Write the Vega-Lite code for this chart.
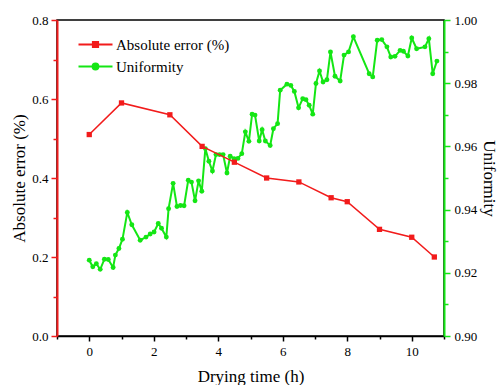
{
  "$schema": "https://vega.github.io/schema/vega-lite/v6.json",
  "width": 387,
  "height": 316,
  "autosize": {"type": "none"},
  "padding": {"left": 57, "top": 20, "right": 55, "bottom": 49},
  "background": "white",
  "config": {
    "view": {"stroke": "black", "strokeWidth": 1.5},
    "font": "Liberation Serif",
    "axis": {
      "labelFont": "Liberation Serif",
      "titleFont": "Liberation Serif",
      "labelFontSize": 13,
      "titleFontSize": 17,
      "titleFontWeight": "normal",
      "labelColor": "black",
      "titleColor": "black",
      "grid": false
    }
  },
  "datasets": {
    "err": [
      {"series": "Absolute error (%)", "t": 0, "v": 0.51},
      {"series": "Absolute error (%)", "t": 1, "v": 0.59},
      {"series": "Absolute error (%)", "t": 2.5, "v": 0.56},
      {"series": "Absolute error (%)", "t": 3.5, "v": 0.48},
      {"series": "Absolute error (%)", "t": 4.5, "v": 0.44},
      {"series": "Absolute error (%)", "t": 5.5, "v": 0.40},
      {"series": "Absolute error (%)", "t": 6.5, "v": 0.39},
      {"series": "Absolute error (%)", "t": 7.5, "v": 0.35},
      {"series": "Absolute error (%)", "t": 8, "v": 0.34},
      {"series": "Absolute error (%)", "t": 9, "v": 0.27},
      {"series": "Absolute error (%)", "t": 10, "v": 0.25},
      {"series": "Absolute error (%)", "t": 10.7, "v": 0.20}
    ],
    "uni": [
      {"series": "Uniformity", "t": 0.00, "v": 0.9240},
      {"series": "Uniformity", "t": 0.11, "v": 0.9219},
      {"series": "Uniformity", "t": 0.22, "v": 0.9229},
      {"series": "Uniformity", "t": 0.34, "v": 0.9211},
      {"series": "Uniformity", "t": 0.47, "v": 0.9243},
      {"series": "Uniformity", "t": 0.59, "v": 0.9242},
      {"series": "Uniformity", "t": 0.74, "v": 0.9217},
      {"series": "Uniformity", "t": 0.81, "v": 0.9256},
      {"series": "Uniformity", "t": 0.92, "v": 0.9277},
      {"series": "Uniformity", "t": 1.03, "v": 0.9306},
      {"series": "Uniformity", "t": 1.18, "v": 0.9391},
      {"series": "Uniformity", "t": 1.32, "v": 0.9352},
      {"series": "Uniformity", "t": 1.58, "v": 0.9303},
      {"series": "Uniformity", "t": 1.76, "v": 0.9313},
      {"series": "Uniformity", "t": 1.89, "v": 0.9323},
      {"series": "Uniformity", "t": 2.01, "v": 0.9329},
      {"series": "Uniformity", "t": 2.14, "v": 0.9356},
      {"series": "Uniformity", "t": 2.24, "v": 0.9341},
      {"series": "Uniformity", "t": 2.39, "v": 0.9313},
      {"series": "Uniformity", "t": 2.46, "v": 0.9403},
      {"series": "Uniformity", "t": 2.60, "v": 0.9483},
      {"series": "Uniformity", "t": 2.72, "v": 0.9410},
      {"series": "Uniformity", "t": 2.83, "v": 0.9413},
      {"series": "Uniformity", "t": 2.94, "v": 0.9412},
      {"series": "Uniformity", "t": 3.07, "v": 0.9493},
      {"series": "Uniformity", "t": 3.17, "v": 0.9487},
      {"series": "Uniformity", "t": 3.28, "v": 0.9428},
      {"series": "Uniformity", "t": 3.39, "v": 0.9491},
      {"series": "Uniformity", "t": 3.49, "v": 0.9458},
      {"series": "Uniformity", "t": 3.60, "v": 0.9593},
      {"series": "Uniformity", "t": 3.71, "v": 0.9553},
      {"series": "Uniformity", "t": 3.82, "v": 0.9522},
      {"series": "Uniformity", "t": 3.93, "v": 0.9574},
      {"series": "Uniformity", "t": 4.04, "v": 0.9574},
      {"series": "Uniformity", "t": 4.15, "v": 0.9574},
      {"series": "Uniformity", "t": 4.27, "v": 0.9516},
      {"series": "Uniformity", "t": 4.37, "v": 0.9569},
      {"series": "Uniformity", "t": 4.49, "v": 0.9561},
      {"series": "Uniformity", "t": 4.61, "v": 0.9562},
      {"series": "Uniformity", "t": 4.73, "v": 0.9577},
      {"series": "Uniformity", "t": 4.84, "v": 0.9646},
      {"series": "Uniformity", "t": 4.95, "v": 0.9616},
      {"series": "Uniformity", "t": 5.05, "v": 0.9702},
      {"series": "Uniformity", "t": 5.14, "v": 0.9699},
      {"series": "Uniformity", "t": 5.27, "v": 0.9617},
      {"series": "Uniformity", "t": 5.36, "v": 0.9653},
      {"series": "Uniformity", "t": 5.46, "v": 0.9617},
      {"series": "Uniformity", "t": 5.61, "v": 0.9603},
      {"series": "Uniformity", "t": 5.71, "v": 0.9656},
      {"series": "Uniformity", "t": 5.84, "v": 0.9672},
      {"series": "Uniformity", "t": 5.92, "v": 0.9778},
      {"series": "Uniformity", "t": 6.13, "v": 0.9797},
      {"series": "Uniformity", "t": 6.25, "v": 0.9793},
      {"series": "Uniformity", "t": 6.36, "v": 0.9774},
      {"series": "Uniformity", "t": 6.49, "v": 0.9722},
      {"series": "Uniformity", "t": 6.62, "v": 0.9751},
      {"series": "Uniformity", "t": 6.72, "v": 0.9748},
      {"series": "Uniformity", "t": 6.82, "v": 0.9730},
      {"series": "Uniformity", "t": 6.93, "v": 0.9702},
      {"series": "Uniformity", "t": 7.03, "v": 0.9799},
      {"series": "Uniformity", "t": 7.14, "v": 0.9839},
      {"series": "Uniformity", "t": 7.25, "v": 0.9804},
      {"series": "Uniformity", "t": 7.37, "v": 0.9811},
      {"series": "Uniformity", "t": 7.48, "v": 0.9899},
      {"series": "Uniformity", "t": 7.62, "v": 0.9822},
      {"series": "Uniformity", "t": 7.78, "v": 0.9807},
      {"series": "Uniformity", "t": 7.90, "v": 0.9889},
      {"series": "Uniformity", "t": 8.04, "v": 0.9899},
      {"series": "Uniformity", "t": 8.19, "v": 0.9947},
      {"series": "Uniformity", "t": 8.68, "v": 0.9830},
      {"series": "Uniformity", "t": 8.79, "v": 0.9820},
      {"series": "Uniformity", "t": 8.93, "v": 0.9936},
      {"series": "Uniformity", "t": 9.07, "v": 0.9938},
      {"series": "Uniformity", "t": 9.23, "v": 0.9915},
      {"series": "Uniformity", "t": 9.35, "v": 0.9883},
      {"series": "Uniformity", "t": 9.48, "v": 0.9885},
      {"series": "Uniformity", "t": 9.64, "v": 0.9904},
      {"series": "Uniformity", "t": 9.74, "v": 0.9901},
      {"series": "Uniformity", "t": 9.88, "v": 0.9886},
      {"series": "Uniformity", "t": 10.00, "v": 0.9943},
      {"series": "Uniformity", "t": 10.15, "v": 0.9909},
      {"series": "Uniformity", "t": 10.41, "v": 0.9915},
      {"series": "Uniformity", "t": 10.53, "v": 0.9941},
      {"series": "Uniformity", "t": 10.65, "v": 0.9830},
      {"series": "Uniformity", "t": 10.78, "v": 0.9870}
    ]
  },
  "encoding": {
    "x": {
      "field": "t",
      "type": "quantitative",
      "scale": {"domain": [-1, 11], "nice": false, "zero": false},
      "axis": {
        "title": "Drying time (h)",
        "values": [-1, 0, 1, 2, 3, 4, 5, 6, 7, 8, 9, 10, 11],
        "labelExpr": "(datum.value >= 0 && datum.value <= 10 && datum.value % 2 == 0) ? datum.label : ''",
        "domainColor": "black",
        "domainWidth": 1.5,
        "tickColor": "black",
        "tickWidth": 1.5,
        "tickSize": {"condition": {"test": "abs(datum.value % 2) == 1", "value": 3}, "value": 5},
        "labelPadding": 4,
        "titlePadding": 10,
        "labelFlush": false
      }
    },
    "color": {
      "field": "series",
      "type": "nominal",
      "scale": {"domain": ["Absolute error (%)", "Uniformity"], "range": ["#f21b1b", "#14e614"]},
      "legend": {
        "title": null,
        "orient": "none",
        "legendX": 31,
        "legendY": 17,
        "padding": 0,
        "labelFont": "Liberation Serif",
        "labelFontSize": 15,
        "labelColor": "black",
        "symbolSize": 100,
        "symbolStrokeWidth": 1.8,
        "labelOffset": 13,
        "rowPadding": 6,
        "encode": {
          "symbols": {
            "update": {
              "shape": {"signal": "datum.value === 'Uniformity' ? 'M-3.4,0H3.4M0.6,0A0.6,0.6,0,1,1,-0.6,0A0.6,0.6,0,1,1,0.6,0Z' : 'M-3.4,0H3.4M-0.54,-0.54H0.54V0.54H-0.54Z'"},
              "fill": {"scale": "color", "field": "value"},
              "stroke": {"scale": "color", "field": "value"}
            }
          }
        }
      }
    }
  },
  "layer": [
    {
      "data": {"name": "uni"},
      "mark": {"type": "line", "strokeWidth": 2, "point": {"filled": true, "size": 24, "opacity": 1}},
      "encoding": {
        "y": {
          "field": "v",
          "type": "quantitative",
          "scale": {"domain": [0.9, 1.0], "nice": false, "zero": false},
          "axis": {
            "orient": "right",
            "title": "Uniformity",
            "values": [0.9, 0.91, 0.92, 0.93, 0.94, 0.95, 0.96, 0.97, 0.98, 0.99, 1.0],
            "labelExpr": "round(datum.value * 100) % 2 == 0 ? format(datum.value, '.2f') : ''",
            "domainColor": "#14e614",
            "domainWidth": 2,
            "tickColor": "#14e614",
            "tickWidth": 1.5,
            "tickSize": {"condition": {"test": "round(datum.value * 100) % 2 == 1", "value": 4}, "value": 6},
            "labelPadding": 4,
            "titlePadding": 3,
            "labelFlush": false
          }
        }
      }
    },
    {
      "data": {"name": "err"},
      "mark": {"type": "line", "strokeWidth": 1.5, "point": {"filled": true, "shape": "square", "size": 28, "opacity": 1}},
      "encoding": {
        "y": {
          "field": "v",
          "type": "quantitative",
          "scale": {"domain": [0, 0.8], "nice": false},
          "axis": {
            "orient": "left",
            "title": "Absolute error (%)",
            "values": [0, 0.1, 0.2, 0.3, 0.4, 0.5, 0.6, 0.7, 0.8],
            "labelExpr": "round(datum.value * 10) % 2 == 0 ? format(datum.value, '.1f') : ''",
            "domainColor": "#f21b1b",
            "domainWidth": 2,
            "tickColor": "#f21b1b",
            "tickWidth": 1.5,
            "tickSize": {"condition": {"test": "round(datum.value * 10) % 2 == 1", "value": 4}, "value": 6},
            "labelPadding": 3,
            "titlePadding": 3,
            "labelFlush": false
          }
        }
      }
    }
  ],
  "resolve": {"scale": {"y": "independent"}}
}
